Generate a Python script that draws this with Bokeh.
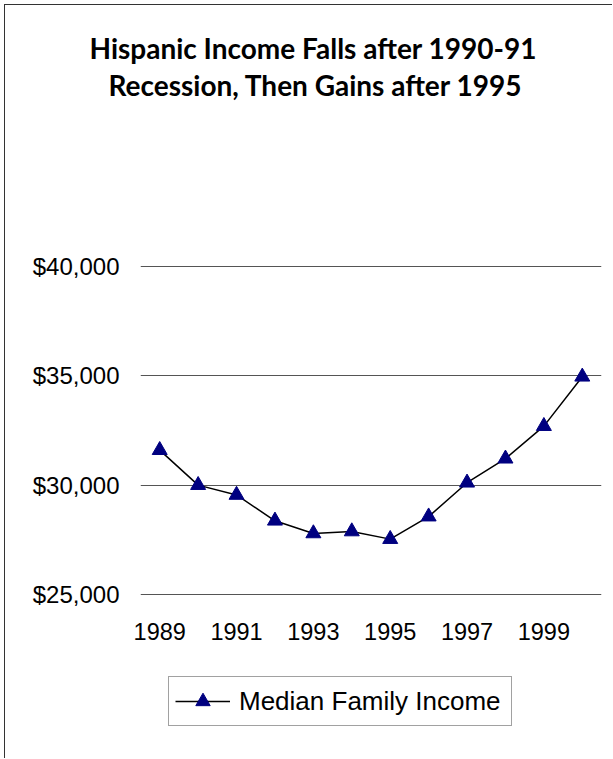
from bokeh.plotting import figure
from bokeh.layouts import column
from bokeh.models import (Title, FixedTicker, NumeralTickFormatter, Legend,
                          LegendItem, ColumnDataSource)
from bokeh.embed import file_html
from bokeh.resources import INLINE

# ---- data ----
years = [1989, 1990, 1991, 1992, 1993, 1994, 1995, 1996, 1997, 1998, 1999, 2000]
income = [31600, 30000, 29550, 28370, 27790, 27880, 27530, 28560, 30110, 31210, 32700, 34960]
x_ticks = [1989, 1991, 1993, 1995, 1997, 1999]
y_ticks = [25000, 30000, 35000, 40000]
title_line1 = "Hispanic Income Falls after 1990-91"
title_line2 = "Recession, Then Gains after 1995"
series_name = "Median Family Income"

src = ColumnDataSource(dict(x=years, y=income))

# ---- main chart ----
p = figure(width=608, height=656, output_backend="svg", toolbar_location=None,
           x_range=(1988.5, 2000.5), y_range=(24950, 40050), title=None,
           min_border_left=135, min_border_right=12, min_border_bottom=66,
           min_border_top=0)
p.styles = {"border-left": "1px solid #333333", "border-top": "1px solid #333333"}
p.outline_line_color = None
p.background_fill_color = "white"
p.border_fill_color = "white"


def spacer(standoff):
    return Title(text=" ", text_font_size="2px", standoff=standoff)


t2 = Title(text=title_line2, align="left", offset=-32, text_font="Lato",
           text_font_size="28px", text_font_style="bold", standoff=0,
           text_color="black")
t1 = Title(text=title_line1, align="left", offset=-51, text_font="Lato",
           text_font_size="28px", text_font_style="bold", standoff=1,
           text_color="black")
p.add_layout(spacer(160), "above")
p.add_layout(t2, "above")
p.add_layout(t1, "above")
p.add_layout(spacer(19), "above")

ln = p.line("x", "y", source=src, line_color="black", line_width=1.5)
sc = p.scatter("x", "y", source=src, marker="triangle", size=15,
               fill_color="#000080", line_color="#000080")

p.xaxis.ticker = FixedTicker(ticks=x_ticks)
p.yaxis.ticker = FixedTicker(ticks=y_ticks)
p.yaxis.formatter = NumeralTickFormatter(format="$0,0")
for ax in (p.xaxis, p.yaxis):
    ax.axis_line_color = None
    ax.major_tick_line_color = None
    ax.minor_tick_line_color = None
    ax.major_tick_out = 0
    ax.major_tick_in = 0
    ax.minor_tick_out = 0
    ax.minor_tick_in = 0
    ax.major_label_text_font = "Liberation Sans"
    ax.major_label_text_color = "black"
p.xaxis.major_label_text_font_size = "23.5px"
p.yaxis.major_label_text_font_size = "24px"
p.xaxis.major_label_standoff = 27
p.yaxis.major_label_standoff = 21

p.xgrid.grid_line_color = None
p.ygrid.grid_line_color = "#555555"
p.ygrid.grid_line_width = 1

# ---- legend strip ----
q = figure(width=608, height=98, output_backend="svg", toolbar_location=None,
           x_range=(0, 1), y_range=(0, 1), title=None,
           min_border_left=0, min_border_right=0, min_border_bottom=0,
           min_border_top=0)
q.styles = {"border-left": "1px solid #333333"}
q.outline_line_color = None
q.axis.visible = False
q.grid.visible = False
q.background_fill_color = "white"
q.border_fill_color = "white"
lq = q.line("x", "y", source=src, line_color="black", line_width=1.5)
sq = q.scatter("x", "y", source=src, marker="triangle", size=15,
               fill_color="#000080", line_color="#000080")

legend = Legend(items=[LegendItem(label=series_name, renderers=[lq, sq])],
                location=(28, 32), orientation="vertical",
                label_text_font="Liberation Sans", label_text_font_size="26px",
                label_text_color="black", label_width=266,
                border_line_color="#444444", border_line_width=1,
                background_fill_color="white", background_fill_alpha=1,
                glyph_width=55, glyph_height=36, padding=6, spacing=0,
                label_standoff=9, margin=0)
q.add_layout(legend, "center")

layout = column(p, q, spacing=0, styles={"margin-left": "4px", "margin-top": "4px"})

open("out.html", "w").write(file_html(layout, INLINE))
